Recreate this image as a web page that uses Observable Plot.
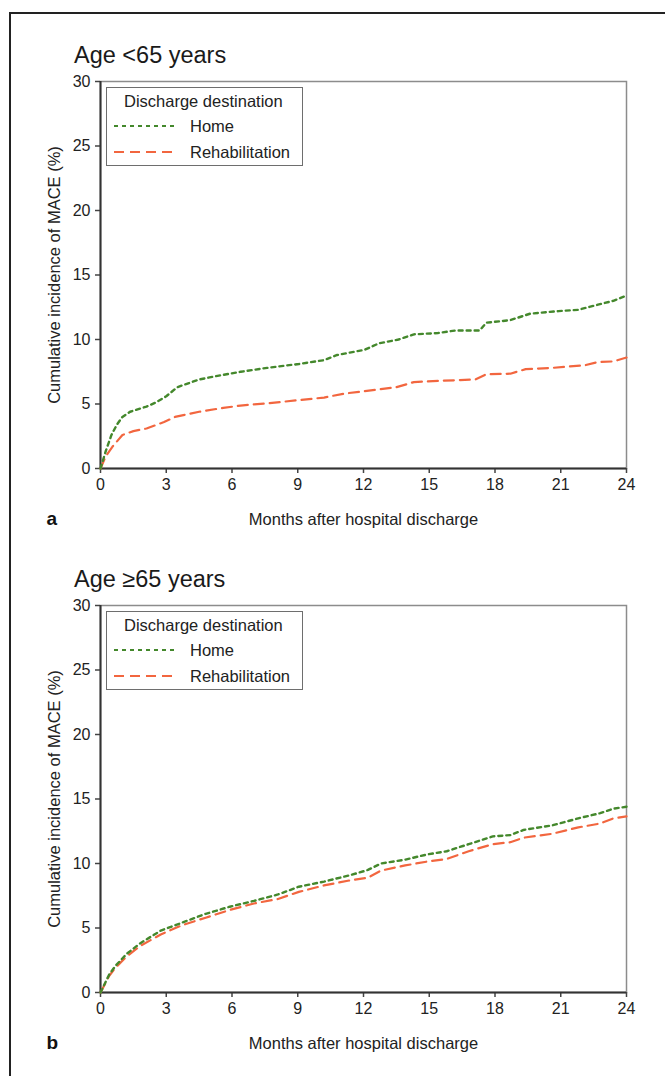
<!DOCTYPE html>
<html>
<head>
<meta charset="utf-8">
<script src="https://cdn.jsdelivr.net/npm/d3@7"></script>
<script src="https://cdn.jsdelivr.net/npm/@observablehq/plot@0.6"></script>
<style>
  html, body { margin: 0; padding: 0; background: #fff; }
  body { width: 665px; height: 1076px; overflow: hidden; position: relative;
         font-family: "Liberation Sans", Arial, Helvetica, sans-serif; color: #222; }
  .frame { position: absolute; left: 9px; top: 12px; width: 720px; height: 1120px;
           border-top: 2px solid #222; border-left: 2px solid #222; }
  .title { position: absolute; left: 74px; font-size: 23.5px; line-height: 1; color: #1a1a1a; white-space: nowrap; }
  .panel { position: absolute; left: 0; }
  .legend { position: absolute; left: 106px; width: 195px; height: 77px;
            border: 1.5px solid #6e6e6e; background: #fff; font-size: 16.5px; color: #222; }
  .legend .lt { position: absolute; left: 17px; top: 4px; white-space: nowrap; }
  .legend .row { position: absolute; left: 6px; white-space: nowrap; height: 20px; }
  .legend .row svg { position: absolute; left: 0; top: 0; }
  .legend .row span { position: absolute; left: 77px; top: 0; line-height: 20px; }
</style>
</head>
<body>
<div class="frame"></div>
<div id="root"></div>
<script>
// ---- Data ----
const seriesNames = ["Home", "Rehabilitation"];
const seriesColors = ["#44882c", "#f2663f"];
const legendTitle = "Discharge destination";
const xLabel = "Months after hospital discharge";
const yLabel = "Cumulative incidence of MACE (%)";
const xTicks = [0, 3, 6, 9, 12, 15, 18, 21, 24];
const yTicks = [0, 5, 10, 15, 20, 25, 30];
const panelTitles = ["Age <65 years", "Age \u226565 years"];
const panelLetters = ["a", "b"];

// Panel a: age < 65
const under65HomeMonths = [0,0.25,0.5,0.75,1.0,1.35,2.1,2.5,3.0,3.5,4.5,5.4,6.4,7.6,9.05,10.2,10.8,12.05,12.7,13.6,14.3,15.4,16.2,17.3,17.6,18.7,19.6,20.9,21.8,22.7,23.4,24];
const under65HomeValues = [0,1.4,2.6,3.4,4.0,4.4,4.8,5.1,5.6,6.3,6.9,7.2,7.5,7.8,8.1,8.4,8.8,9.2,9.7,10.0,10.4,10.5,10.7,10.7,11.3,11.5,12.0,12.2,12.3,12.7,13.0,13.4];
const under65RehabMonths = [0,0.24,0.55,1.0,1.5,2.1,2.9,3.4,4.5,5.6,6.5,7.6,9.05,10.2,11.1,12.05,13.5,14.3,15.5,17.1,17.6,18.7,19.4,20.6,22.1,22.7,23.4,24];
const under65RehabValues = [0,0.95,1.7,2.6,2.9,3.1,3.6,4.0,4.4,4.7,4.9,5.05,5.3,5.5,5.8,6.0,6.3,6.7,6.8,6.9,7.3,7.35,7.7,7.8,8.0,8.25,8.3,8.6];

// Panel b: age >= 65
const over65HomeMonths = [0,0.4,0.7,1.2,1.8,2.75,3.7,4.8,5.9,7.0,8.1,9.05,10.2,11.4,12.2,12.8,13.9,14.9,15.8,16.8,17.9,18.7,19.3,20.6,21.8,22.8,23.4,24];
const over65HomeValues = [0,1.4,2.1,3.0,3.8,4.8,5.4,6.1,6.65,7.1,7.6,8.2,8.6,9.1,9.5,10.0,10.3,10.7,10.95,11.5,12.1,12.2,12.6,12.95,13.5,13.9,14.25,14.4];
const over65RehabMonths = [0,0.4,0.7,1.2,1.8,2.75,3.7,4.8,5.9,7.0,8.1,9.05,10.2,11.4,12.2,12.8,13.9,14.9,15.8,16.8,17.9,18.7,19.3,20.6,21.8,22.8,23.4,24];
const over65RehabValues = [0,1.3,1.95,2.8,3.6,4.5,5.2,5.8,6.4,6.9,7.25,7.8,8.3,8.7,8.9,9.45,9.85,10.15,10.35,10.95,11.5,11.65,12.0,12.3,12.8,13.1,13.5,13.65];

// ---- Styling ----
const dashes = ["4,4", "10,6"];
const FONT = '"Liberation Sans", Arial, Helvetica, sans-serif';

function toRows(months, values, name) {
  return months.map((m, i) => ({ month: m, value: values[i], series: name }));
}

function makePanel(homeRows, rehabRows, letter) {
  return Plot.plot({
    width: 665,
    height: 475,
    marginTop: 11,
    marginBottom: 77,
    marginLeft: 100,
    marginRight: 39,
    style: { fontFamily: FONT, fontSize: "16px", color: "#222", background: "transparent", overflow: "visible" },
    x: { domain: [0, 24] },
    y: { domain: [0, 30] },
    marks: [
      Plot.frame({ stroke: "#8c8c8c", strokeWidth: 1.5 }),
      Plot.axisX({ ticks: xTicks, tickSize: 5, tickPadding: 5, label: null, stroke: "#444", strokeWidth: 1.5, fill: "#222", fontSize: 16 }),
      Plot.axisY({ ticks: yTicks, tickSize: 5, tickPadding: 5, label: null, stroke: "#444", strokeWidth: 1.5, fill: "#222", fontSize: 16 }),
      Plot.ruleX([0], { stroke: "#333", strokeWidth: 2 }),
      Plot.ruleY([0], { stroke: "#333", strokeWidth: 2 }),
      Plot.line(rehabRows, { x: "month", y: "value", stroke: seriesColors[1], strokeWidth: 2.2, strokeDasharray: dashes[1] }),
      Plot.line(homeRows, { x: "month", y: "value", stroke: seriesColors[0], strokeWidth: 2.4, strokeDasharray: dashes[0] }),
      Plot.text([xLabel], { text: d => d, frameAnchor: "bottom", dy: 56, fontSize: 16.5, fill: "#222" }),
      Plot.text([yLabel], { text: d => d, frameAnchor: "left", textAnchor: "middle", dx: -46, rotate: -90, fontSize: 16.5, fill: "#222" }),
      Plot.text([letter], { text: d => d, frameAnchor: "bottom-left", dx: -54, dy: 56, textAnchor: "start", fontSize: 19, fontWeight: "bold", fill: "#111" })
    ]
  });
}

function legendEl(top) {
  const div = document.createElement("div");
  div.className = "legend";
  div.style.top = top + "px";
  const t = document.createElement("div");
  t.className = "lt";
  t.textContent = legendTitle;
  div.appendChild(t);
  seriesNames.forEach((name, i) => {
    const row = document.createElement("div");
    row.className = "row";
    row.style.top = (i === 0 ? 28 : 54) + "px";
    const svg = d3.create("svg").attr("width", 70).attr("height", 20);
    svg.append("line").attr("x1", 1).attr("x2", 65).attr("y1", 10).attr("y2", 10)
      .attr("stroke", seriesColors[i]).attr("stroke-width", 2).attr("stroke-dasharray", dashes[i]);
    row.appendChild(svg.node());
    const s = document.createElement("span");
    s.textContent = name;
    row.appendChild(s);
    div.appendChild(row);
  });
  return div;
}

const root = document.getElementById("root");
const panels = [
  { top: 70, titleTop: 44, legendTop: 87, home: toRows(under65HomeMonths, under65HomeValues, "Home"), rehab: toRows(under65RehabMonths, under65RehabValues, "Rehabilitation") },
  { top: 594, titleTop: 568, legendTop: 611, home: toRows(over65HomeMonths, over65HomeValues, "Home"), rehab: toRows(over65RehabMonths, over65RehabValues, "Rehabilitation") }
];
panels.forEach((p, i) => {
  const title = document.createElement("div");
  title.className = "title";
  title.style.top = p.titleTop + "px";
  title.textContent = panelTitles[i];
  root.appendChild(title);

  const wrap = document.createElement("div");
  wrap.className = "panel";
  wrap.style.top = p.top + "px";
  wrap.appendChild(makePanel(p.home, p.rehab, panelLetters[i]));
  root.appendChild(wrap);

  root.appendChild(legendEl(p.legendTop));
});
</script>
</body>
</html>
